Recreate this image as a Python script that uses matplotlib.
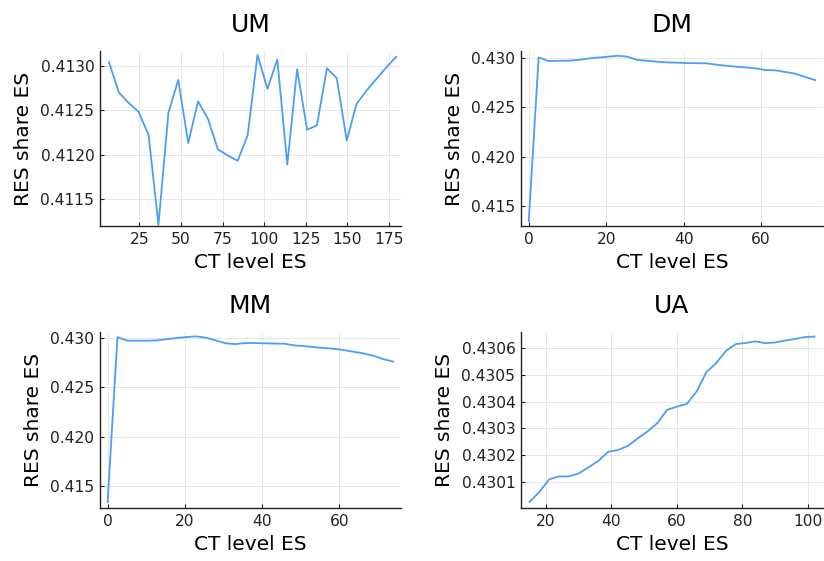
import matplotlib
matplotlib.use("Agg")
import matplotlib.pyplot as plt
from matplotlib.ticker import FormatStrFormatter

# CT level (x) and RES share (y) for each scenario
um_ct = [6.8, 12.7, 18.7, 24.6, 30.6, 36.5, 42.5, 48.4, 54.4, 60.3,
         66.3, 72.2, 78.2, 84.1, 90.1, 96.0, 102.0, 107.9, 113.9, 119.8,
         125.8, 131.7, 137.7, 143.6, 149.6, 155.5, 161.5, 167.4, 173.4, 179.3]
um_res = [0.41304, 0.41270, 0.41258, 0.41248, 0.41222, 0.41121, 0.41247, 0.41284, 0.41213, 0.41260,
          0.41240, 0.41206, 0.41199, 0.41193, 0.41222, 0.41312, 0.41274, 0.41307, 0.41189, 0.41296,
          0.41228, 0.41233, 0.41297, 0.41286, 0.41216, 0.41257, 0.41272, 0.41285, 0.41298, 0.41310]

dm_ct = [0.0, 2.55, 5.1, 7.65, 10.2, 12.75, 15.3, 17.85, 20.4, 22.95,
         25.5, 28.05, 30.6, 33.15, 35.7, 38.25, 40.8, 43.35, 45.9, 48.45,
         51.0, 53.55, 56.1, 58.65, 61.2, 63.75, 66.3, 68.85, 71.4, 73.95]
dm_res = [0.41343, 0.43010, 0.42973, 0.42975, 0.42976, 0.42983, 0.42998, 0.43008, 0.43017, 0.43027,
          0.43017, 0.42983, 0.42976, 0.42966, 0.42959, 0.42956, 0.42952, 0.42951, 0.42949, 0.42936,
          0.42925, 0.42915, 0.42908, 0.42898, 0.42881, 0.42878, 0.42861, 0.42844, 0.42810, 0.42779]

mm_ct = dm_ct
mm_res = [0.41339, 0.43010, 0.42973, 0.42973, 0.42973, 0.42976, 0.42988, 0.43000, 0.43010, 0.43017,
          0.43003, 0.42976, 0.42946, 0.42939, 0.42949, 0.42949, 0.42946, 0.42944, 0.42942, 0.42925,
          0.42918, 0.42908, 0.42898, 0.42891, 0.42878, 0.42861, 0.42844, 0.42820, 0.42786, 0.42762]

ua_ct = [15, 18, 21, 24, 27, 30, 33, 36, 39, 42,
         45, 48, 51, 54, 57, 60, 63, 66, 69, 72,
         75, 78, 81, 84, 87, 90, 93, 96, 99, 102]
ua_res = [0.430025, 0.430062, 0.430109, 0.430120, 0.430120, 0.430131, 0.430154, 0.430178, 0.430212, 0.430219,
          0.430234, 0.430262, 0.430288, 0.430319, 0.430369, 0.430381, 0.430391, 0.430437, 0.430510, 0.430544,
          0.430590, 0.430615, 0.430619, 0.430625, 0.430618, 0.430621, 0.430628, 0.430634, 0.430641, 0.430643]

titles = ["UM", "DM", "MM", "UA"]
xticks = [[25, 50, 75, 100, 125, 150, 175], [0, 20, 40, 60], [0, 20, 40, 60], [20, 40, 60, 80, 100]]
yticks = [[0.4115, 0.4120, 0.4125, 0.4130], [0.415, 0.420, 0.425, 0.430],
          [0.415, 0.420, 0.425, 0.430], [0.4301, 0.4302, 0.4303, 0.4304, 0.4305, 0.4306]]
yfmt = ["%.4f", "%.3f", "%.3f", "%.4f"]
xlims = [(1.4, 182.2), (-2.0, 76.0), (-2.1, 76.0), (12.4, 104.6)]
ylims = [(0.411198, 0.413165), (0.41293, 0.43075), (0.41279, 0.43061), (0.430002, 0.43066)]
series = [(um_ct, um_res), (dm_ct, dm_res), (mm_ct, mm_res), (ua_ct, ua_res)]

W, H = 824, 561
# axes boxes in pixels: left, right, top, bottom
boxes = [(100, 401, 51, 226), (521, 823, 51, 226), (99.5, 401, 332, 508), (521, 823, 332, 508)]

plt.rcParams['font.family'] = ['DejaVu Sans']
fig = plt.figure(figsize=(W / 100, H / 100), dpi=100)

line_color = "#4a9ff5"
for i in range(4):
    l, r, t, b = boxes[i]
    ax = fig.add_axes([l / W, 1 - b / H, (r - l) / W, (b - t) / H])
    x, y = series[i]
    ax.plot(x, y, color=line_color, lw=1.3)
    ax.set_xlim(*xlims[i])
    ax.set_ylim(*ylims[i])
    ax.set_xticks(xticks[i])
    ax.set_yticks(yticks[i])
    ax.yaxis.set_major_formatter(FormatStrFormatter(yfmt[i]))
    for s in ("top", "right"):
        ax.spines[s].set_visible(False)
    for s in ("left", "bottom"):
        ax.spines[s].set_linewidth(1.0)
        ax.spines[s].set_color("#222222")
    ax.tick_params(direction="in", length=3, width=0.8, labelsize=11.2,
                   color="#222222", labelcolor="#222222", pad=4)
    ax.grid(True, color="#e6e6e6", lw=0.7)
    ax.set_axisbelow(True)
    ax.set_title(titles[i], fontsize=18, pad=14)
    ax.set_xlabel("CT level ES", fontsize=14.5, labelpad=5)
    ax.set_ylabel("RES share ES", fontsize=14.5, labelpad=5)

fig.savefig("out.png", dpi=100)
